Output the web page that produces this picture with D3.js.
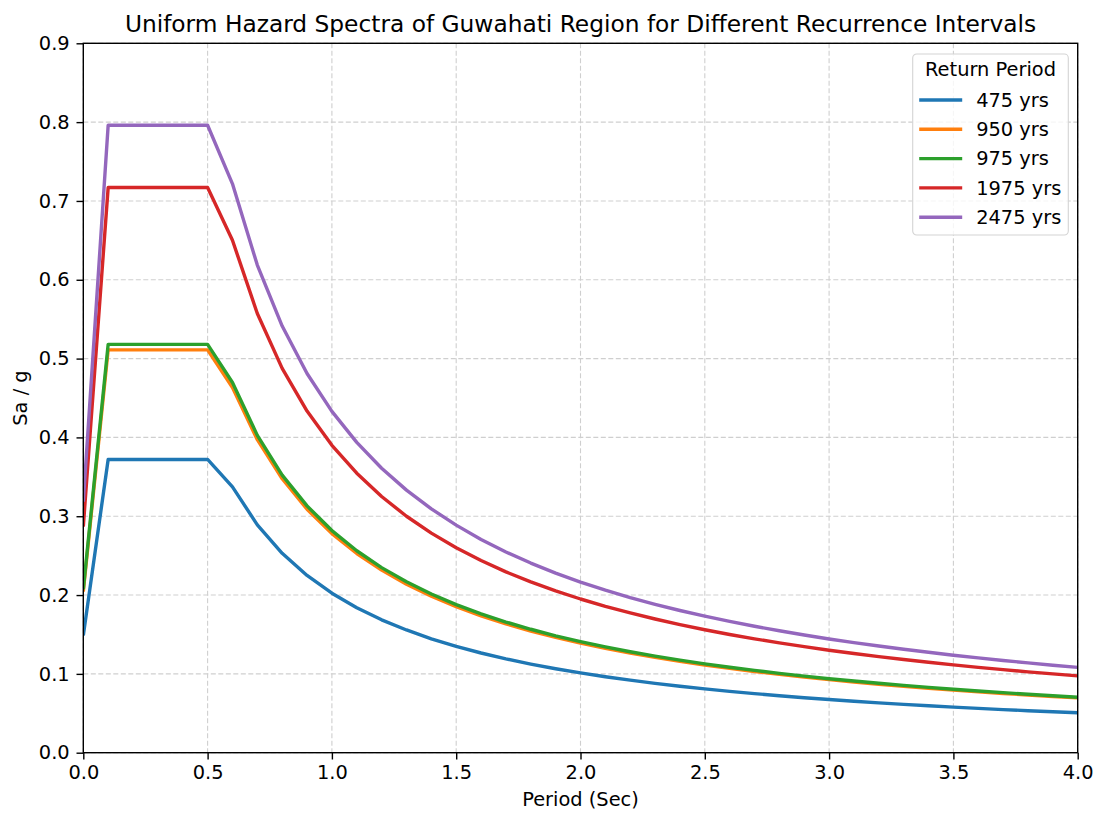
<!DOCTYPE html>
<html>
<head>
<meta charset="utf-8">
<script src="https://cdn.jsdelivr.net/npm/d3@7"></script>
<style>
    body { margin: 0; background: #fff; }
    svg text { font-family: "DejaVu Sans", sans-serif; fill: #000; }
</style>
</head>
<body>
<script>
// Data
const periods = [0.0, 0.1, 0.2, 0.3, 0.4, 0.5, 0.6, 0.7, 0.8, 0.9, 1.0, 1.1, 1.2, 1.3, 1.4, 1.5, 1.6, 1.7, 1.8, 1.9, 2.0,
    2.1, 2.2, 2.3, 2.4, 2.5, 2.6, 2.7, 2.8, 2.9, 3.0, 3.1, 3.2, 3.3, 3.4, 3.5, 3.6, 3.7, 3.8, 3.9, 4.0];

const sa475 = [0.1488, 0.372, 0.372, 0.372, 0.372, 0.372, 0.3373, 0.2891, 0.2530, 0.2249, 0.2024, 0.1840, 0.1686,
    0.1557, 0.1445, 0.1349, 0.1265, 0.1190, 0.1124, 0.1065, 0.1012, 0.0964, 0.0920, 0.0880, 0.0843, 0.0809, 0.0778,
    0.0750, 0.0723, 0.0698, 0.0675, 0.0653, 0.0632, 0.0613, 0.0595, 0.0578, 0.0562, 0.0547, 0.0533, 0.0519, 0.0506];
const sa950 = [0.2044, 0.511, 0.511, 0.511, 0.511, 0.511, 0.4633, 0.3971, 0.3475, 0.3089, 0.2780, 0.2527, 0.2317,
    0.2138, 0.1986, 0.1853, 0.1737, 0.1635, 0.1544, 0.1463, 0.1390, 0.1324, 0.1264, 0.1209, 0.1158, 0.1112, 0.1069,
    0.1030, 0.0993, 0.0959, 0.0927, 0.0897, 0.0869, 0.0842, 0.0818, 0.0794, 0.0772, 0.0751, 0.0732, 0.0713, 0.0695];
const sa975 = [0.2072, 0.518, 0.518, 0.518, 0.518, 0.518, 0.4697, 0.4026, 0.3522, 0.3131, 0.2818, 0.2562, 0.2348,
    0.2168, 0.2013, 0.1879, 0.1761, 0.1658, 0.1566, 0.1483, 0.1409, 0.1342, 0.1281, 0.1225, 0.1174, 0.1127, 0.1084,
    0.1044, 0.1006, 0.0972, 0.0939, 0.0909, 0.0881, 0.0854, 0.0829, 0.0805, 0.0783, 0.0762, 0.0742, 0.0723, 0.0704];
const sa1975 = [0.2868, 0.717, 0.717, 0.717, 0.717, 0.717, 0.6501, 0.5572, 0.4876, 0.4334, 0.3900, 0.3546, 0.3250,
    0.3000, 0.2786, 0.2600, 0.2438, 0.2294, 0.2167, 0.2053, 0.1950, 0.1857, 0.1773, 0.1696, 0.1625, 0.1560, 0.1500,
    0.1445, 0.1393, 0.1345, 0.1300, 0.1258, 0.1219, 0.1182, 0.1147, 0.1114, 0.1083, 0.1054, 0.1026, 0.1000, 0.0975];
const sa2475 = [0.3184, 0.796, 0.796, 0.796, 0.796, 0.796, 0.7217, 0.6186, 0.5413, 0.4811, 0.4330, 0.3937, 0.3609,
    0.3331, 0.3093, 0.2887, 0.2706, 0.2547, 0.2406, 0.2279, 0.2165, 0.2062, 0.1968, 0.1883, 0.1804, 0.1732, 0.1665,
    0.1604, 0.1547, 0.1493, 0.1443, 0.1397, 0.1353, 0.1312, 0.1274, 0.1237, 0.1203, 0.1170, 0.1140, 0.1110, 0.1083];

const seriesLabels = ["475 yrs", "950 yrs", "975 yrs", "1975 yrs", "2475 yrs"];
const seriesValues = [sa475, sa950, sa975, sa1975, sa2475];
const seriesColors = ["#1f77b4", "#ff7f0e", "#2ca02c", "#d62728", "#9467bd"];

const xTicks = [0, 0.5, 1.0, 1.5, 2.0, 2.5, 3.0, 3.5, 4.0];
const yTicks = [0, 0.1, 0.2, 0.3, 0.4, 0.5, 0.6, 0.7, 0.8, 0.9];

const titleText = "Uniform Hazard Spectra of Guwahati Region for Different Recurrence Intervals";
const xLabel = "Period (Sec)";
const yLabel = "Sa / g";
const legendTitle = "Return Period";

// Layout
const width = 1097;
const height = 814;
const margin = { left: 83.3, right: 1097 - 1077.7, top: 43.3, bottom: 814 - 752.7 };
const plotW = width - margin.left - margin.right;
const plotH = height - margin.top - margin.bottom;
const tickLen = 6.8;
const fontSize = "19.4px";

const svg = d3.select("body").append("svg")
    .attr("width", width)
    .attr("height", height);

const x = d3.scaleLinear().domain([0, 4]).range([0, plotW]);
const y = d3.scaleLinear().domain([0, 0.9]).range([plotH, 0]);

const plot = svg.append("g")
    .attr("transform", `translate(${margin.left},${margin.top})`);

svg.append("defs").append("clipPath")
    .attr("id", "plot-clip")
    .append("rect")
    .attr("width", plotW)
    .attr("height", plotH);

// Grid
const grid = plot.append("g").attr("class", "grid");
grid.selectAll(".vgrid")
    .data(xTicks)
    .join("line")
    .attr("x1", d => x(d)).attr("x2", d => x(d))
    .attr("y1", 0).attr("y2", plotH);
grid.selectAll(".hgrid")
    .data(yTicks)
    .join("line")
    .attr("x1", 0).attr("x2", plotW)
    .attr("y1", d => y(d)).attr("y2", d => y(d));
grid.selectAll("line")
    .attr("stroke", "#cfcfcf")
    .attr("stroke-width", 1.1)
    .attr("stroke-dasharray", "5,2.5");

// Lines
const line = d3.line()
    .x((d, i) => x(periods[i]))
    .y(d => y(d));

plot.append("g")
    .attr("clip-path", "url(#plot-clip)")
    .selectAll("path")
    .data(seriesValues)
    .join("path")
    .attr("d", d => line(d))
    .attr("fill", "none")
    .attr("stroke", (d, i) => seriesColors[i])
    .attr("stroke-width", 3.4)
    .attr("stroke-linejoin", "round")
    .attr("stroke-linecap", "butt");

// Axes
const xAxis = plot.append("g")
    .attr("transform", `translate(0,${plotH})`)
    .call(d3.axisBottom(x).tickValues(xTicks).tickFormat(d3.format(".1f"))
        .tickSize(tickLen).tickPadding(6.2));
const yAxis = plot.append("g")
    .call(d3.axisLeft(y).tickValues(yTicks).tickFormat(d3.format(".1f"))
        .tickSize(tickLen).tickPadding(6.8));

[xAxis, yAxis].forEach(a => {
    a.select(".domain").remove();
    a.selectAll(".tick line").attr("stroke", "#000").attr("stroke-width", 1.4);
    a.selectAll(".tick text")
        .attr("font-size", fontSize)
        .attr("font-family", "DejaVu Sans")
        .attr("fill", "#000");
});

// Spines
plot.append("rect")
    .attr("width", plotW)
    .attr("height", plotH)
    .attr("fill", "none")
    .attr("stroke", "#000")
    .attr("stroke-width", 1.4);

// Title and labels
svg.append("text")
    .attr("x", margin.left + plotW / 2)
    .attr("y", 31.5)
    .attr("text-anchor", "middle")
    .attr("font-size", "23.3px")
    .text(titleText);

svg.append("text")
    .attr("x", margin.left + plotW / 2)
    .attr("y", 806)
    .attr("text-anchor", "middle")
    .attr("font-size", fontSize)
    .text(xLabel);

svg.append("text")
    .attr("transform", `translate(27,${margin.top + plotH / 2}) rotate(-90)`)
    .attr("text-anchor", "middle")
    .attr("font-size", fontSize)
    .text(yLabel);

// Legend
const legend = svg.append("g")
    .attr("transform", "translate(912.7,54)");

legend.append("rect")
    .attr("width", 155.6)
    .attr("height", 181)
    .attr("rx", 4)
    .attr("fill", "#fff")
    .attr("fill-opacity", 0.8)
    .attr("stroke", "#d4d4d4")
    .attr("stroke-width", 1.1);

legend.append("text")
    .attr("x", 77.8)
    .attr("y", 22)
    .attr("text-anchor", "middle")
    .attr("font-size", fontSize)
    .text(legendTitle);

const items = legend.selectAll(".item")
    .data(seriesLabels)
    .join("g")
    .attr("transform", (d, i) => `translate(0,${46 + i * 29.3})`);

items.append("line")
    .attr("x1", 6.5).attr("x2", 49.5)
    .attr("stroke", (d, i) => seriesColors[i])
    .attr("stroke-width", 3.4);

items.append("text")
    .attr("x", 63.5)
    .attr("dy", "0.35em")
    .attr("font-size", fontSize)
    .text(d => d);
</script>
</body>
</html>
